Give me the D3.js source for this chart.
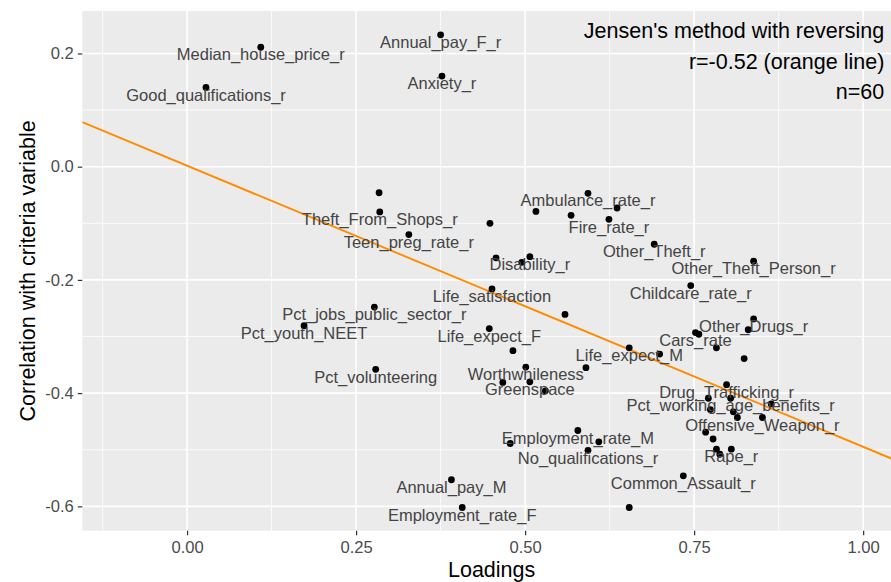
<!DOCTYPE html>
<html>
<head>
<meta charset="utf-8">
<script src="https://cdn.jsdelivr.net/npm/d3@7"></script>
<style>
  html, body { margin: 0; padding: 0; background: #ffffff; }
  svg { display: block; font-family: "Liberation Sans", Arial, sans-serif; }
</style>
</head>
<body>
<svg id="chart" width="891" height="582"></svg>
<script>
// Factor loadings of each indicator and its correlation with the criteria variable
const loadings = [
  0.109, 0.028, 0.375, 0.377, 0.284, 0.285, 0.328, 0.448, 0.457, 0.451,
  0.277, 0.593, 0.516, 0.568, 0.636, 0.624, 0.691, 0.507, 0.495, 0.838,
  0.745, 0.838, 0.830, 0.559, 0.173, 0.447, 0.752, 0.757, 0.783, 0.824,
  0.482, 0.654, 0.699, 0.501, 0.590, 0.279, 0.467, 0.507, 0.530, 0.798,
  0.771, 0.804, 0.864, 0.774, 0.808, 0.814, 0.851, 0.767, 0.778, 0.578,
  0.478, 0.609, 0.593, 0.783, 0.788, 0.805, 0.734, 0.654, 0.391, 0.407
];
const correlations = [
  0.211, 0.140, 0.233, 0.160, -0.046, -0.080, -0.120, -0.100, -0.161, -0.216,
  -0.248, -0.047, -0.079, -0.086, -0.073, -0.093, -0.137, -0.159, -0.169, -0.167,
  -0.210, -0.269, -0.288, -0.261, -0.281, -0.286, -0.293, -0.296, -0.320, -0.339,
  -0.325, -0.320, -0.331, -0.354, -0.355, -0.358, -0.381, -0.380, -0.396, -0.385,
  -0.409, -0.409, -0.419, -0.429, -0.433, -0.443, -0.443, -0.469, -0.481, -0.466,
  -0.489, -0.486, -0.501, -0.499, -0.508, -0.499, -0.546, -0.602, -0.553, -0.602
];
// Text shown beside a point (empty where the label was dropped for overlap)
const pointLabels = [
  "Median_house_price_r", "Good_qualifications_r", "Annual_pay_F_r", "Anxiety_r", "", "Theft_From_Shops_r", "Teen_preg_rate_r", "", "", "Life_satisfaction",
  "Pct_jobs_public_sector_r", "Ambulance_rate_r", "", "", "", "Fire_rate_r", "Other_Theft_r", "Disability_r", "", "Other_Theft_Person_r",
  "Childcare_rate_r", "Other_Drugs_r", "", "", "Pct_youth_NEET", "Life_expect_F", "Cars_rate", "", "", "",
  "", "Life_expect_M", "", "Worthwhileness", "", "Pct_volunteering", "", "Greenspace", "", "Drug_Trafficking_r",
  "", "Pct_working_age_benefits_r", "", "", "", "", "Offensive_Weapon_r", "", "", "Employment_rate_M",
  "", "", "No_qualifications_r", "", "", "Rape_r", "Common_Assault_r", "", "Annual_pay_M", "Employment_rate_F"
];
const xTicks = [0, 0.25, 0.5, 0.75, 1.0];
const xTickLabels = ["0.00", "0.25", "0.50", "0.75", "1.00"];
const xMinor = [-0.125, 0.125, 0.375, 0.625, 0.875];
const yTicks = [0.2, 0.0, -0.2, -0.4, -0.6];
const yTickLabels = ["0.2", "0.0", "-0.2", "-0.4", "-0.6"];
const yMinor = [0.1, -0.1, -0.3, -0.5];
const xDomain = [-0.155, 1.056];
const yDomain = [-0.643, 0.275];
const noteLines = ["Jensen's method with reversing", "r=-0.52 (orange line)", "n=60"];

const svg = d3.select("#chart");
const panel = { left: 82.3, right: 901, top: 11, bottom: 530.7 };

const x = d3.scaleLinear().domain(xDomain).range([panel.left, panel.right]);
const y = d3.scaleLinear().domain(yDomain).range([panel.bottom, panel.top]);

svg.append("defs").append("clipPath").attr("id", "panel-clip")
  .append("rect")
  .attr("x", panel.left).attr("y", panel.top)
  .attr("width", panel.right - panel.left).attr("height", panel.bottom - panel.top);

// Panel background and grid
svg.append("rect")
  .attr("x", panel.left).attr("y", panel.top)
  .attr("width", panel.right - panel.left).attr("height", panel.bottom - panel.top)
  .attr("fill", "#EBEBEB");

const grid = svg.append("g");
grid.selectAll(".xminor").data(xMinor).join("line")
  .attr("x1", d => x(d)).attr("x2", d => x(d))
  .attr("y1", panel.top).attr("y2", panel.bottom)
  .attr("stroke", "#ffffff").attr("stroke-width", 0.8);
grid.selectAll(".yminor").data(yMinor).join("line")
  .attr("y1", d => y(d)).attr("y2", d => y(d))
  .attr("x1", panel.left).attr("x2", panel.right)
  .attr("stroke", "#ffffff").attr("stroke-width", 0.8);
grid.selectAll(".xmajor").data(xTicks).join("line")
  .attr("x1", d => x(d)).attr("x2", d => x(d))
  .attr("y1", panel.top).attr("y2", panel.bottom)
  .attr("stroke", "#ffffff").attr("stroke-width", 1.6);
grid.selectAll(".ymajor").data(yTicks).join("line")
  .attr("y1", d => y(d)).attr("y2", d => y(d))
  .attr("x1", panel.left).attr("x2", panel.right)
  .attr("stroke", "#ffffff").attr("stroke-width", 1.6);

// Axes
const xAxis = d3.axisBottom(x).tickValues(xTicks)
  .tickFormat((d, i) => xTickLabels[i]).tickSize(4.5).tickPadding(6);
const gx = svg.append("g").attr("transform", `translate(0,${panel.bottom})`).call(xAxis);
gx.select(".domain").remove();
gx.selectAll(".tick line").attr("stroke", "#333333").attr("stroke-width", 1.2);
gx.selectAll(".tick text").attr("fill", "#4D4D4D").attr("font-size", 16.6)
  .attr("font-family", "'Liberation Sans', Arial, sans-serif");

const yAxis = d3.axisLeft(y).tickValues(yTicks)
  .tickFormat((d, i) => yTickLabels[i]).tickSize(4.5).tickPadding(4);
const gy = svg.append("g").attr("transform", `translate(${panel.left},0)`).call(yAxis);
gy.select(".domain").remove();
gy.selectAll(".tick line").attr("stroke", "#333333").attr("stroke-width", 1.2);
gy.selectAll(".tick text").attr("fill", "#4D4D4D").attr("font-size", 16.6)
  .attr("font-family", "'Liberation Sans', Arial, sans-serif");

// Axis titles
svg.append("text")
  .attr("x", (panel.left + panel.right) / 2).attr("y", 577)
  .attr("text-anchor", "middle").attr("font-size", 21.5).attr("fill", "#000")
  .text("Loadings");
svg.append("text")
  .attr("transform", `translate(35,${(panel.top + panel.bottom) / 2}) rotate(-90)`)
  .attr("text-anchor", "middle").attr("font-size", 21.5).attr("fill", "#000")
  .text("Correlation with criteria variable");

const plot = svg.append("g").attr("clip-path", "url(#panel-clip)");

// Least-squares line of correlation on loading
const mx = d3.mean(loadings), my = d3.mean(correlations);
const sxy = d3.sum(loadings, (v, i) => (v - mx) * (correlations[i] - my));
const sxx = d3.sum(loadings, v => (v - mx) * (v - mx));
const slope = sxy / sxx;
const intercept = my - slope * mx;
plot.append("line")
  .attr("x1", x(xDomain[0])).attr("y1", y(intercept + slope * xDomain[0]))
  .attr("x2", x(xDomain[1])).attr("y2", y(intercept + slope * xDomain[1]))
  .attr("stroke", "#FF8C00").attr("stroke-width", 1.9);

// Points
const pts = loadings.map((v, i) => ({ x: v, y: correlations[i], label: pointLabels[i] }));
plot.selectAll("circle").data(pts).join("circle")
  .attr("cx", d => x(d.x)).attr("cy", d => y(d.y)).attr("r", 3.4)
  .attr("fill", "#000");

// Point labels, centred under each point
plot.selectAll("text.lbl").data(pts.filter(d => d.label)).join("text")
  .attr("class", "lbl")
  .attr("x", d => x(d.x)).attr("y", d => y(d.y) + 13.2)
  .attr("text-anchor", "middle").attr("font-size", 16.5).attr("fill", "#444444")
  .text(d => d.label);

// Method note in the upper right corner
svg.selectAll("text.note").data(noteLines).join("text")
  .attr("class", "note")
  .attr("x", 884.3).attr("y", (d, i) => 38.3 + i * 30.4)
  .attr("text-anchor", "end").attr("font-size", 21.5).attr("fill", "#000")
  .text(d => d);
</script>
</body>
</html>
